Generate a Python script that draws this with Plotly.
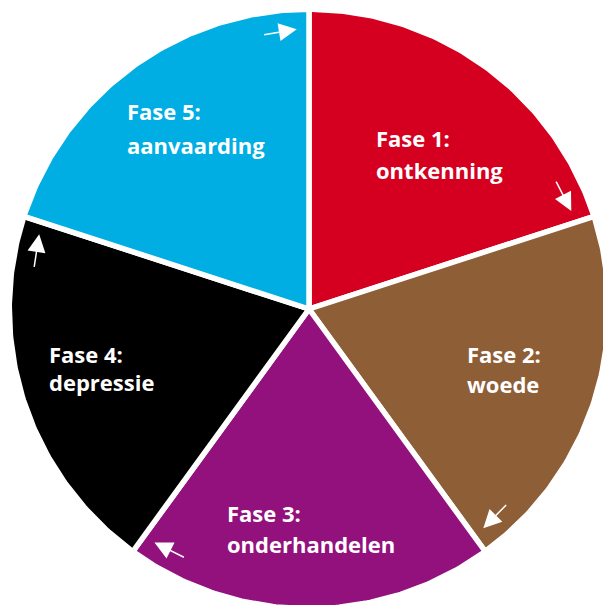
import numpy as np
import plotly.graph_objects as go

# ---- data ----
phases = ["Fase 1:", "Fase 2:", "Fase 3:", "Fase 4:", "Fase 5:"]
names = ["ontkenning", "woede", "onderhandelen", "depressie", "aanvaarding"]
values = [1, 1, 1, 1, 1]
colors = ["#D5001F", "#8E5E37", "#92117D", "#000000", "#00AEE3"]

# ---- layout helpers (pixel geometry) ----
W, H = 603, 605
CX, CY, R = 309, 309, 297  # centre and radius in px
S = 300.0                   # px per data unit

def px(x, y):
    return (x - CX) / S, (CY - y) / S

fig = go.Figure()

total = float(sum(values))
start = 90.0
bounds = []
r_poly = (R + 2.75) / S
for v, col, ph in zip(values, colors, phases):
    sweep = v / total * 360.0
    end = start - sweep
    th = np.radians(np.linspace(start, end, 120))
    xs = np.concatenate([[0], r_poly * np.cos(th), [0]])
    ys = np.concatenate([[0], r_poly * np.sin(th), [0]])
    fig.add_trace(go.Scatter(x=xs, y=ys, fill="toself", fillcolor=col,
                             mode="lines", line=dict(color="white", width=5.5),
                             hoverinfo="text", text=ph, showlegend=False))
    bounds.append(end)
    start = end

# arrows just before each boundary, pointing clockwise
r_head, r_tail = 280 / S, 278 / S
for b in bounds:
    head = np.radians(b + 2.5)
    tail = np.radians(b + 9.6)
    fig.add_annotation(x=r_head * np.cos(head), y=r_head * np.sin(head),
                       ax=r_tail * np.cos(tail), ay=r_tail * np.sin(tail),
                       xref="x", yref="y", axref="x", ayref="y",
                       showarrow=True, arrowhead=2, arrowsize=2.4,
                       arrowwidth=1.5, arrowcolor="white", standoff=0, text="")

# label anchors (left x, baseline y of first line, baseline y of second line) in px
label_pos = [(374, 146, 178), (465, 362, 392), (225, 521, 552),
             (47, 362, 390), (125, 119, 153)]
FS = 22
for ph, nm, (lx, b1, b2) in zip(phases, names, label_pos):
    for txt, by in ((ph, b1), (nm, b2)):
        x, y = px(lx, by - 0.36 * FS)
        fig.add_annotation(x=x, y=y, xref="x", yref="y", text=txt,
                           showarrow=False, xanchor="left", yanchor="middle",
                           font=dict(family="Open Sans", size=FS, color="white",
                                     weight="bold"))

fig.update_layout(
    width=W, height=H, margin=dict(l=0, r=0, t=0, b=0),
    paper_bgcolor="white", plot_bgcolor="white",
    xaxis=dict(range=[(0 - CX) / S, (W - CX) / S], visible=False, fixedrange=True),
    yaxis=dict(range=[(CY - H) / S, CY / S], visible=False, fixedrange=True),
)

fig.write_html("out.html",
               post_script="document.body.style.margin='0';document.body.style.overflow='hidden';",
               config={"displayModeBar": False})
